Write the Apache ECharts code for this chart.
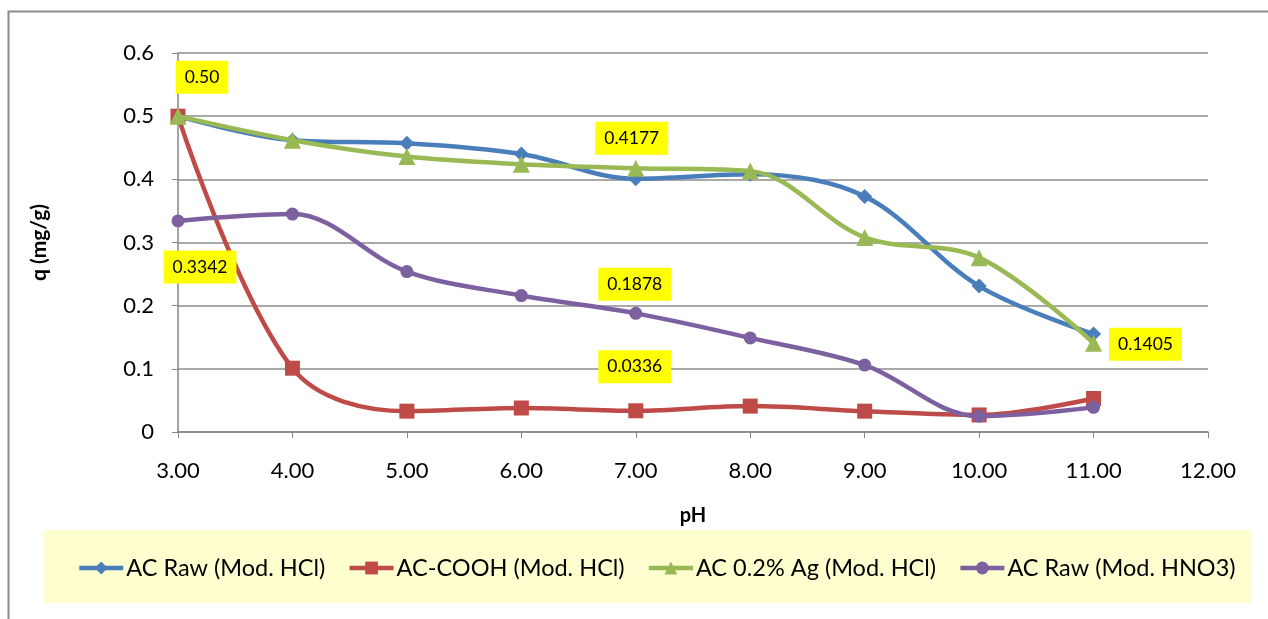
<!DOCTYPE html>
<html>
<head>
<meta charset="UTF-8">
<title>q vs pH</title>
<script src="https://cdn.jsdelivr.net/npm/echarts@6/dist/echarts.min.js"></script>
<style>
html, body { margin: 0; padding: 0; background: #fff; }
#main { width: 1268px; height: 619px; }
</style>
</head>
<body>
<div id="main"></div>
<script type="text/javascript">
// pH values (x)
var phValues = [3, 4, 5, 6, 7, 8, 9, 10, 11];
var seriesNames = ['AC Raw (Mod. HCl)', 'AC-COOH (Mod. HCl)', 'AC 0.2% Ag (Mod. HCl)', 'AC Raw (Mod. HNO3)'];
var rawHCl  = [0.50, 0.462, 0.457, 0.440, 0.401, 0.408, 0.373, 0.231, 0.155];
var coohHCl = [0.50, 0.101, 0.033, 0.038, 0.0336, 0.041, 0.033, 0.027, 0.053];
var agHCl   = [0.50, 0.462, 0.436, 0.424, 0.4177, 0.413, 0.308, 0.276, 0.1405];
var rawHNO3 = [0.3342, 0.345, 0.254, 0.216, 0.1878, 0.149, 0.106, 0.025, 0.039];
// point labels: series index, point index, text
var labelSeries = [1, 3, 2, 3, 1, 2];
var labelPoints = [0, 0, 4, 4, 4, 8];
var labelTexts  = ['0.50', '0.3342', '0.4177', '0.1878', '0.0336', '0.1405'];

var labelOffsets = [[24, -39], [22, 46], [-4, -30], [-1, -29], [-1, -44], [52, 1]];
var colors = ['#4A7EBB', '#BE4B48', '#98B954', '#7D60A0'];
var symbols = ['diamond', 'rect', 'triangle', 'circle'];
var symbolSizes = [15, 15, 17, 13];
var allValues = [rawHCl, coohHCl, agHCl, rawHNO3];
var font = 'Lato';

var myChart = echarts.init(document.getElementById('main'));

var series = [];
for (var s = 0; s < allValues.length; s++) {
    var data = [];
    for (var i = 0; i < phValues.length; i++) {
        data.push({ value: [phValues[i], allValues[s][i]] });
    }
    series.push({
        name: seriesNames[s],
        type: 'line',
        smooth: 0.35,
        data: data,
        symbol: symbols[s],
        symbolSize: symbolSizes[s],
        lineStyle: { color: colors[s], width: 4.5 },
        itemStyle: { color: colors[s] },
        z: 2 + s,
        label: { show: false }
    });
}
for (var k = 0; k < labelTexts.length; k++) {
    var item = series[labelSeries[k]].data[labelPoints[k]];
    item.label = {
        show: true,
        position: 'inside',
        offset: labelOffsets[k],
        formatter: labelTexts[k],
        color: '#000',
        fontSize: 17.5,
        fontFamily: font,
        backgroundColor: '#FFFF00',
        padding: [8, 9, 7, 9]
    };
}

option = {
    animation: false,
    color: colors,
    grid: { left: 178, right: 60, top: 53, bottom: 187, containLabel: false },
    graphic: [{
        type: 'polyline',
        shape: { points: [[8.5, 640], [8.5, 11.5], [1275, 11.5]] },
        style: { fill: null, stroke: '#8C8C8C', lineWidth: 2 },
        z: -10
    }, {
        type: 'rect',
        shape: { x: 44, y: 530, width: 1207, height: 73 },
        style: { fill: '#FEFECE' },
        z: -5
    }],
    legend: {
        data: seriesNames,
        left: 72,
        top: 551,
        itemWidth: 44,
        itemHeight: 16,
        itemGap: 22,
        lineStyle: { width: 4.5 },
        textStyle: { fontSize: 23.5, fontFamily: font, color: '#000', padding: [0, 0, 0, -2] }
    },
    xAxis: {
        type: 'value',
        min: 3,
        max: 12,
        interval: 1,
        name: 'pH',
        nameLocation: 'middle',
        nameGap: 74,
        nameTextStyle: { fontSize: 20, fontWeight: 'bold', fontFamily: font, color: '#000' },
        axisLine: { lineStyle: { color: '#868686', width: 1.5 } },
        axisTick: { show: true, length: 6, lineStyle: { color: '#868686' } },
        axisLabel: {
            fontSize: 22, fontFamily: font, color: '#000', margin: 28,
            formatter: function (v) { return v.toFixed(2); }
        },
        splitLine: { show: false }
    },
    yAxis: {
        type: 'value',
        min: 0,
        max: 0.6,
        interval: 0.1,
        name: 'q (mg/g)',
        nameLocation: 'middle',
        nameRotate: 90,
        nameGap: 128,
        nameTextStyle: { fontSize: 21, fontWeight: 'bold', fontFamily: font, color: '#000' },
        axisLine: { show: true, lineStyle: { color: '#868686', width: 1.5 } },
        axisTick: { show: true, length: 6, lineStyle: { color: '#868686' } },
        axisLabel: {
            fontSize: 22, fontFamily: font, color: '#000', margin: 24,
            formatter: function (v) { return String(Math.round(v * 10) / 10); }
        },
        splitLine: { lineStyle: { color: '#8C8C8C', width: 1.5 } }
    },
    series: series
};
myChart.setOption(option);
</script>
</body>
</html>
